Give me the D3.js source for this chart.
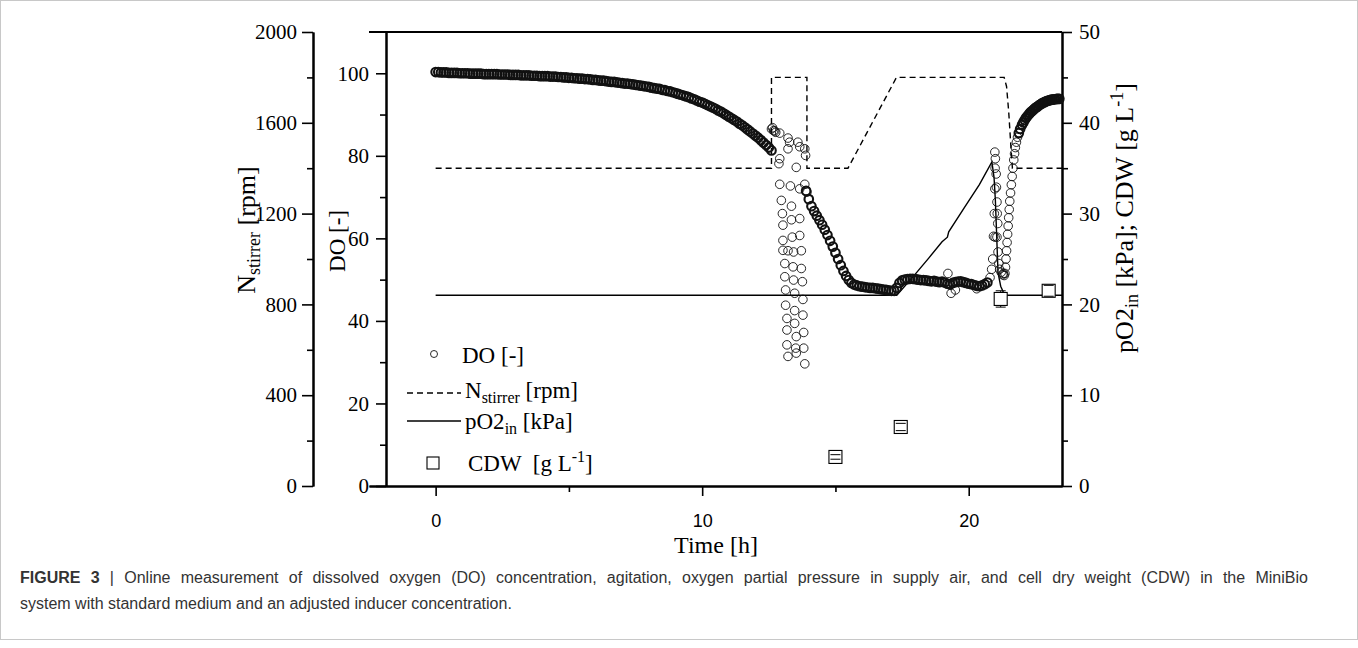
<!DOCTYPE html>
<html>
<head>
<meta charset="utf-8">
<script src="https://cdn.jsdelivr.net/npm/d3@7"></script>
<style>
  body { margin: 0; background: #fff; }
  svg text { font-family: "Liberation Serif", "Times New Roman", serif; white-space: pre; }
</style>
</head>
<body>
<div id="chart"></div>
<script>
// ---- data ----
// DO [-], regularly logged parts (start time, 0.1 h step)
const doStep = 0.1;
const doEarlyStart = 0;
const doEarly = [
  100.3,100.3,100.2,100.2,100.2,100.1,100.1,100.1,100.1,100.0,
  100.0,100.0,100.0,99.9,99.9,99.9,99.9,99.9,99.8,99.8,
  99.8,99.8,99.8,99.8,99.7,99.7,99.7,99.7,99.6,99.6,
  99.6,99.6,99.5,99.5,99.5,99.5,99.4,99.4,99.4,99.3,
  99.3,99.3,99.3,99.2,99.2,99.2,99.1,99.1,99.0,99.0,
  98.9,98.9,98.8,98.8,98.7,98.7,98.6,98.6,98.5,98.4,
  98.4,98.3,98.2,98.2,98.1,98.0,97.9,97.9,97.8,97.7,
  97.6,97.5,97.5,97.4,97.3,97.2,97.1,97.0,96.9,96.8,
  96.7,96.5,96.4,96.3,96.2,96.0,95.9,95.7,95.6,95.4,
  95.2,95.0,94.8,94.6,94.4,94.2,93.9,93.7,93.4,93.1,
  92.9,92.6,92.3,92.0,91.7,91.4,91.0,90.7,90.3,89.9,
  89.5,89.1,88.7,88.3,87.8,87.4,86.9,86.4,85.9,85.4,
  84.9,84.4,83.8,83.2,82.6,82.0,81.3
];
const doDropStart = 13.9;
const doDrop = [
  71.5,69.5,67.8,66.6,65.5,64.4,63.3,62.1,60.8,59.4,
  58.0,56.5,55.0,53.5,52.1,50.9,49.9,49.2,48.8,48.6,
  48.4,48.3,48.2,48.1,48.0,48.0,47.9,47.8,47.7,47.6,
  47.5,47.4,47.3,47.3
];
const doPlateauStart = 17.3;
const doPlateau = [
  48.0,49.2,49.8,50.0,50.1,50.2,50.2,50.1,50.0,49.9,
  49.9,49.8,49.7,49.6,49.7,49.5,49.4,49.5,49.3,49.0,
  48.8,49.2,49.4,49.5,49.6,49.4,49.2,49.0,48.9,48.7,
  48.5,48.4,48.6,48.9,49.3
];
// DO [-], irregular parts as [time h, DO]
const doPulse = [
  [12.60,86.5],[12.64,86.8],[12.68,86.1],[12.72,86.0],[12.76,85.7],[12.91,85.5],
  [13.22,84.3],[13.28,83.3],[13.59,83.3],[13.66,82.2],[13.85,81.7],[13.88,80.1],
  [12.91,79.3],[12.88,78.1],[13.22,81.7],[13.53,77.2],
  [12.91,73.1],[13.31,72.7],[13.66,72.0],[13.85,73.1],[13.93,71.2],[12.97,69.2],
  [13.35,67.8],[13.01,66.0],[13.35,64.5],[13.66,64.8],[13.03,63.2],[13.03,59.5],
  [13.38,60.3],[13.66,60.7],[13.03,57.1],[13.22,57.0],[13.43,56.7],[13.72,57.0],
  [13.10,53.9],[13.41,53.1],[13.72,52.7],[13.10,50.7],[13.43,49.9],[13.76,49.5],
  [13.13,47.5],[13.47,46.7],[13.78,45.2],[13.13,43.8],[13.47,42.5],[13.78,41.4],
  [13.18,40.6],[13.47,39.4],[13.81,37.2],[13.18,37.8],[13.53,36.2],[13.18,34.2],
  [13.51,33.4],[13.81,33.4],[13.22,31.4],[13.53,32.2],[13.85,29.6]
];
const doOutliers = [[19.22,51.5],[19.34,46.7],[19.5,47.5],[20.3,47.8]];
const doSpike = [
  [20.80,50.5],[20.86,52.5],[20.90,55.0],[20.93,60.5],[20.96,66.0],[20.98,72.0],
  [20.99,77.0],[20.98,80.9],[21.00,79.3],[21.03,75.6],[21.04,72.4],[21.06,68.8],
  [21.07,66.0],[21.09,63.6],[21.06,60.3],[20.99,60.3],[21.10,56.7],[21.13,53.9],
  [21.16,52.5],[21.22,51.8],[21.28,51.2]
];
const doRecovery = [
  [21.30,51.5],[21.33,51.0],[21.36,51.5],[21.38,53.0],[21.40,55.0],[21.42,57.0],
  [21.44,59.0],[21.46,61.0],[21.48,63.0],[21.50,65.0],[21.52,67.0],[21.54,69.0],
  [21.57,71.0],[21.60,73.0],[21.63,75.0],[21.66,77.0],[21.69,79.0],[21.72,80.5],
  [21.75,82.0],[21.79,83.3],[21.83,84.5]
];
// top of the recovery, logged densely again
const doRecoveryTop = [
  [21.88,85.5],[21.93,86.5],[22.0,87.5],
  [22.05,88.1],[22.1,88.7],[22.15,89.2],[22.2,89.6],[22.25,90.0],[22.3,90.4],
  [22.35,90.7],[22.4,91.0],[22.45,91.3],[22.5,91.6],[22.55,91.8],[22.6,92.0],
  [22.65,92.3],[22.7,92.5],[22.75,92.7],[22.8,92.9],[22.85,93.0],[22.9,93.2],
  [22.95,93.3],[23.0,93.4],[23.05,93.5],[23.1,93.6],[23.15,93.6],[23.2,93.7],
  [23.25,93.7],[23.3,93.8],[23.35,93.8],[23.4,93.8]
];
// stirrer speed [rpm] as [time h, rpm]
const stirrer = [
  [0,1400],[12.6,1400],[12.6,1800],[13.93,1800],[13.93,1400],[15.47,1400],
  [17.29,1800],[21.33,1800],[21.42,1760],[21.5,1650],[21.58,1500],[21.64,1400],[23.5,1400]
];
// oxygen partial pressure in supply air [kPa]
const pO2 = [
  [0,21],[17.3,21],[17.9,23.0],[18.5,25.1],[19.0,26.9],[19.2,27.4],[19.25,28.0],
  [19.8,30.5],[20.4,33.2],[20.87,35.7],[20.95,34.0],[21.0,31.5],[21.05,27.5],
  [21.1,23.5],[21.2,22.0],[21.35,21.0],[23.5,21]
];
// cell dry weight [g/L] with error
const cdwTime = [15.0, 17.45, 21.2, 23.0];
const cdwValue = [3.2, 6.5, 20.6, 21.5];
const cdwError = [0.25, 0.4, 0.9, 0.6];

const timeTicks = [0, 10, 20];
const timeMinor = [5, 15];
const nTicks = [0, 400, 800, 1200, 1600, 2000];
const nMinor = [200, 600, 1000, 1400, 1800];
const doTicks = [0, 20, 40, 60, 80, 100];
const doMinor = [10, 30, 50, 70, 90];
const rTicks = [0, 10, 20, 30, 40, 50];
const rMinor = [5, 15, 25, 35, 45];

// ---- layout ----
const width = 1358, height = 648;
const svg = d3.select('#chart').append('svg')
  .attr('width', width)
  .attr('height', height);

// thin frame round the whole figure
svg.append('rect')
  .attr('x', 0.5).attr('y', 0.5)
  .attr('width', width - 1).attr('height', 639)
  .attr('fill', 'none').attr('stroke', '#c8c8c8');

const x = d3.scaleLinear().domain([-2.5, 23.5]).range([369, 1062]);
const yDO = d3.scaleLinear().domain([0, 110]).range([486, 32]);
const yN = d3.scaleLinear().domain([0, 2000]).range([486, 32]);
const yR = d3.scaleLinear().domain([0, 50]).range([486, 32]);

function styleAxis(g, fontFamily, fontSize) {
  g.select('.domain').attr('stroke', '#000').attr('stroke-width', 2);
  g.selectAll('.tick line').attr('stroke', '#000').attr('stroke-width', 1.6);
  g.selectAll('.tick text').attr('fill', '#000')
    .style('font-family', fontFamily).style('font-size', fontSize + 'px');
}

// makeAxis: () => d3.axisX(scale), called twice (major + minor ticks)
function addAxis(makeAxis, major, minor, transform, size, pad, font, fsize) {
  const g = svg.append('g').attr('transform', transform)
    .call(makeAxis().tickValues(major).tickFormat(d3.format('d'))
      .tickSize(size).tickSizeOuter(0).tickPadding(pad));
  styleAxis(g, font, fsize);
  const gm = svg.append('g').attr('transform', transform)
    .call(makeAxis().tickValues(minor).tickSize(6).tickSizeOuter(0).tickFormat(''));
  styleAxis(gm, font, fsize);
}

const serif = '"Liberation Serif", "Times New Roman", serif';
const sans = '"Liberation Sans", Arial, sans-serif';

addAxis(() => d3.axisLeft(yN), nTicks, nMinor, 'translate(313,0)', 11, 5, serif, 21);
addAxis(() => d3.axisLeft(yDO), doTicks, doMinor, 'translate(386,0)', 10, 7, serif, 21);
addAxis(() => d3.axisRight(yR), rTicks, rMinor, 'translate(1062,0)', 10, 7, serif, 21);
addAxis(() => d3.axisBottom(x), timeTicks, timeMinor, 'translate(0,486)', 10, 18, sans, 18);

// top frame line
svg.append('line')
  .attr('x1', x(-2.5)).attr('x2', x(23.5))
  .attr('y1', 32).attr('y2', 32)
  .attr('stroke', '#000').attr('stroke-width', 2);

// ---- axis titles ----
function subText(sel, parts) {
  parts.forEach(p => {
    const t = sel.append('tspan').text(p.t);
    if (p.dy) t.attr('dy', p.dy);
    if (p.fs) t.style('font-size', p.fs + 'px');
  });
  return sel;
}

subText(svg.append('text')
  .attr('transform', 'translate(255,230) rotate(-90)')
  .attr('text-anchor', 'middle').style('font-size', '26px'), [
  { t: 'N' }, { t: 'stirrer', dy: 5, fs: 18 }, { t: ' [rpm]', dy: -5 }
]);

svg.append('text')
  .attr('transform', 'translate(345,241) rotate(-90)')
  .attr('text-anchor', 'middle').style('font-size', '23px')
  .text('DO [-]');

subText(svg.append('text')
  .attr('transform', 'translate(1133,218) rotate(-90)')
  .attr('text-anchor', 'middle').style('font-size', '26px'), [
  { t: 'pO2' }, { t: 'in', dy: 5, fs: 18 }, { t: ' [kPa]; CDW [g L', dy: -5 },
  { t: '-1', dy: -10, fs: 18 }, { t: ']', dy: 10 }
]);

svg.append('text')
  .attr('x', 716).attr('y', 553)
  .attr('text-anchor', 'middle').style('font-size', '24px')
  .text('Time [h]');

// ---- series ----
const line = (ys) => d3.line().x(d => x(d[0])).y(d => ys(d[1]));

svg.append('path').datum(stirrer)
  .attr('d', line(yN))
  .attr('fill', 'none').attr('stroke', '#000')
  .attr('stroke-width', 1.4).attr('stroke-dasharray', '6,4');

svg.append('path').datum(pO2)
  .attr('d', line(yR))
  .attr('fill', 'none').attr('stroke', '#000').attr('stroke-width', 1.4);

const regular = (start, vals) => vals.map((v, i) => [start + i * doStep, v]);
const doDense = [].concat(
  regular(doEarlyStart, doEarly), regular(doDropStart, doDrop),
  regular(doPlateauStart, doPlateau), doRecoveryTop
);
const doSparse = [].concat(doPulse, doOutliers, doSpike, doRecovery);

// logged densely -> the ring band reads almost black
svg.append('g').selectAll('circle')
  .data(doDense)
  .join('circle')
  .attr('cx', d => x(d[0]))
  .attr('cy', d => yDO(d[1]))
  .attr('r', 4.3)
  .attr('fill', 'none')
  .attr('stroke', '#111')
  .attr('stroke-width', 2.1);

svg.append('g').selectAll('circle')
  .data(doSparse)
  .join('circle')
  .attr('cx', d => x(d[0]))
  .attr('cy', d => yDO(d[1]))
  .attr('r', 4.3)
  .attr('fill', 'none')
  .attr('stroke', '#111')
  .attr('stroke-width', 0.9);

// CDW squares, error caps on top
const cdw = cdwTime.map((t, i) => ({ t, v: cdwValue[i], e: cdwError[i] }));
const cdwG = svg.append('g').selectAll('g').data(cdw).join('g');
cdwG.append('rect')
  .attr('x', d => x(d.t) - 6.5).attr('y', d => yR(d.v) - 6.5)
  .attr('width', 13).attr('height', 13)
  .attr('fill', '#fff').attr('stroke', '#000').attr('stroke-width', 1.1);
cdwG.append('path')
  .attr('d', d => {
    const cx = x(d.t), cy = yR(d.v), y1 = yR(d.v - d.e), y2 = yR(d.v + d.e);
    let p = `M${cx - 5},${y1}H${cx + 5}M${cx - 5},${y2}H${cx + 5}`;
    if (y1 > cy + 6.5) p += `M${cx},${cy + 6.5}V${y1}M${cx},${cy - 6.5}V${y2}`;
    return p;
  })
  .attr('fill', 'none').attr('stroke', '#000').attr('stroke-width', 1);

// ---- legend ----
const lg = svg.append('g').style('font-size', '23px');
lg.append('circle').attr('cx', 434).attr('cy', 354).attr('r', 3.5)
  .attr('fill', 'none').attr('stroke', '#111').attr('stroke-width', 0.9);
lg.append('text').attr('x', 462).attr('y', 363).text('DO [-]');

lg.append('line').attr('x1', 407).attr('x2', 461).attr('y1', 393).attr('y2', 393)
  .attr('stroke', '#000').attr('stroke-width', 1.4).attr('stroke-dasharray', '6,4');
subText(lg.append('text').attr('x', 465).attr('y', 398), [
  { t: 'N' }, { t: 'stirrer', dy: 5, fs: 16 }, { t: ' [rpm]', dy: -5 }
]);

lg.append('line').attr('x1', 407).attr('x2', 461).attr('y1', 421).attr('y2', 421)
  .attr('stroke', '#000').attr('stroke-width', 1.4);
subText(lg.append('text').attr('x', 465).attr('y', 429), [
  { t: 'pO2' }, { t: 'in', dy: 5, fs: 16 }, { t: ' [kPa]', dy: -5 }
]);

lg.append('rect').attr('x', 427).attr('y', 457).attr('width', 12).attr('height', 12)
  .attr('fill', '#fff').attr('stroke', '#000').attr('stroke-width', 1.1);
subText(lg.append('text').attr('x', 468).attr('y', 471), [
  { t: 'CDW  [g L' }, { t: '-1', dy: -9, fs: 16 }, { t: ']', dy: 9 }
]);

// ---- caption (first line justified) ----
const cap = svg.append('g').attr('fill', '#333');
const c1 = cap.append('text').attr('x', 20).attr('y', 583)
  .style('font-family', sans).style('font-size', '16px').style('word-spacing', '5.8px');
c1.append('tspan').attr('font-weight', 'bold').text('FIGURE 3');
c1.append('tspan').text(' | Online measurement of dissolved oxygen (DO) concentration, agitation, oxygen partial pressure in supply air, and cell dry weight (CDW) in the MiniBio');
cap.append('text').attr('x', 20).attr('y', 609)
  .style('font-family', sans).style('font-size', '16px')
  .text('system with standard medium and an adjusted inducer concentration.');
</script>
</body>
</html>
